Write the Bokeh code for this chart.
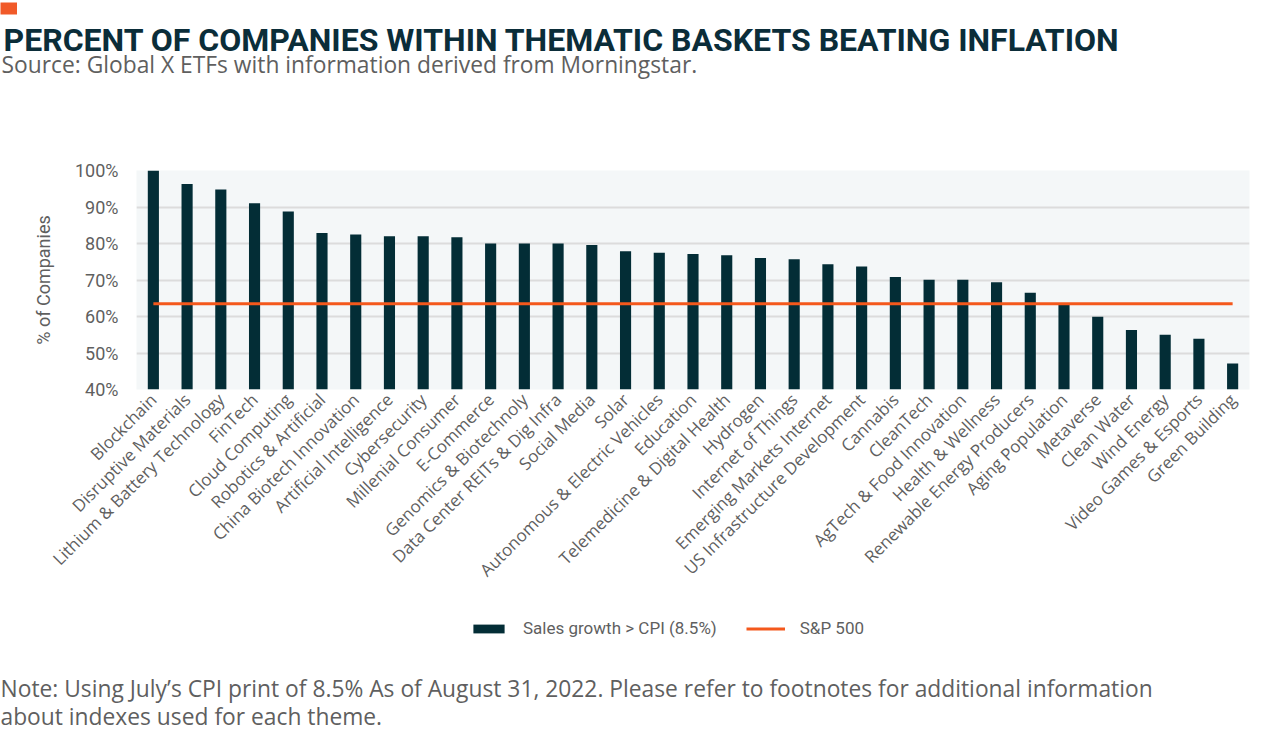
import math
from bokeh.plotting import figure
from bokeh.layouts import column
from bokeh.models import (ColumnDataSource, FactorRange, FixedTicker, NumeralTickFormatter,
                          Legend, LegendItem, Title, Range1d)
from bokeh.embed import file_html
from bokeh.resources import INLINE

categories = [
    "Blockchain", "Disruptive Materials", "Lithium & Battery Technology", "FinTech",
    "Cloud Computing", "Robotics & Artificial", "China Biotech Innovation",
    "Artificial Intelligence", "Cybersecurity", "Millenial Consumer", "E-Commerce",
    "Genomics & Biotechnoly", "Data Center REITs & Dig Infra", "Social Media", "Solar",
    "Autonomous & Electric Vehicles", "Education", "Telemedicine & Digital Health",
    "Hydrogen", "Internet of Things", "Emerging Markets Internet",
    "US Infrastructure Development", "Cannabis", "CleanTech", "AgTech & Food Innovation",
    "Health & Wellness", "Renewable Energy Producers", "Aging Population", "Metaverse",
    "Clean Water", "Wind Energy", "Video Games & Esports", "Green Building",
]
sales_growth_pct = [
    100.0, 96.3, 94.8, 91.0, 88.8, 82.9, 82.5, 82.0, 82.0, 81.7, 80.0,
    80.0, 80.0, 79.6, 77.9, 77.5, 77.1, 76.8, 76.0, 75.7, 74.3,
    73.7, 70.8, 70.1, 70.1, 69.4, 66.5, 63.4, 59.9, 56.3, 55.0, 53.9, 47.1,
]
sp500_pct = 63.5
y_ticks_pct = [40, 50, 60, 70, 80, 90, 100]

title_text = "PERCENT OF COMPANIES WITHIN THEMATIC BASKETS BEATING INFLATION"
subtitle_text = "Source: Global X ETFs with information derived from Morningstar."
note_line1 = "Note: Using July\u2019s CPI print of 8.5% As of August 31, 2022. Please refer to footnotes for additional information"
note_line2 = "about indexes used for each theme."
legend_labels = ["Sales growth > CPI (8.5%)", "S&P 500"]

DARK = "#032d36"
ORANGE = "#f4581c"
GREY = "#5f5f5f"
TXT = "Open Sans"
TXT_SIZE = "22.8px"
W = 1272
FRAME_L = 136

src = ColumnDataSource(dict(cat=categories, val=[v / 100 for v in sales_growth_pct]))


def blank(height, x_range, y_range, bottom=0):
    f = figure(width=W, height=height, x_range=x_range, y_range=y_range,
               output_backend="svg", toolbar_location=None, title=None,
               x_axis_location=None, y_axis_location=None,
               min_border_left=FRAME_L, min_border_right=23,
               min_border_top=0, min_border_bottom=bottom)
    f.outline_line_color = None
    f.xgrid.visible = False
    f.ygrid.visible = False
    return f


# ---------------- header (texts as titles in the side panel)
HEAD_H = 158
head = blank(HEAD_H, Range1d(0, 1), Range1d(0, 1))
head.add_layout(Title(text=subtitle_text, align="left", offset=1 - FRAME_L, standoff=-34,
                      text_font=TXT, text_font_style="normal", text_font_size=TXT_SIZE,
                      text_color=GREY), "above")
head.add_layout(Title(text=title_text, align="left", offset=3 - FRAME_L, standoff=8,
                      text_font="Roboto", text_font_style="bold",
                      text_font_size="32px", text_color="#0b2d39"), "above")
head.add_layout(Title(text="\u2003\u2002", align="left", offset=-FRAME_L, standoff=0,
                      text_font_size="11px", background_fill_color="#f15a29",
                      text_color="#f15a29"), "above")

# ---------------- main chart
TOP_B = 12
FRAME_H = 219
AX_H = 220
p = figure(width=W, height=TOP_B + FRAME_H + AX_H,
           x_range=FactorRange(*categories, range_padding=0),
           y_range=Range1d(0.40, 1.00), output_backend="svg", toolbar_location=None, title=None,
           min_border_left=FRAME_L, min_border_right=23, min_border_top=TOP_B,
           min_border_bottom=AX_H)
p.outline_line_color = None
p.background_fill_color = "#f4f7f8"
p.border_fill_color = "white"

p.vbar(x="cat", top="val", bottom=0.40, width=0.33, source=src,
       fill_color=DARK, line_color=None)
p.line(x=[categories[0], categories[-1]], y=[sp500_pct / 100] * 2,
       line_color=ORANGE, line_width=3)

p.yaxis.ticker = FixedTicker(ticks=[t / 100 for t in y_ticks_pct])
p.yaxis.formatter = NumeralTickFormatter(format="0%")
p.yaxis.axis_label = "% of Companies"
p.yaxis.axis_label_text_font = "Roboto"
p.yaxis.axis_label_text_font_style = "normal"
p.yaxis.axis_label_text_font_size = "18px"
p.yaxis.axis_label_text_color = GREY
p.yaxis.axis_label_standoff = 18
p.yaxis.major_label_text_font = "Roboto"
p.yaxis.major_label_text_font_size = "18px"
p.yaxis.major_label_text_color = GREY
p.yaxis.major_label_standoff = 12

for ax in (p.xaxis[0], p.yaxis[0]):
    ax.axis_line_color = None
    ax.major_tick_line_color = None
    ax.minor_tick_line_color = None

p.xaxis.major_label_orientation = math.pi / 4
p.xaxis.major_label_text_font = "Open Sans"
p.xaxis.major_label_text_font_size = "17px"
p.xaxis.major_label_text_color = GREY
p.xaxis.major_label_standoff = 1

p.xgrid.grid_line_color = None
p.ygrid.grid_line_color = "#dcdcdc"
p.ygrid.grid_line_width = 2

# ---------------- footer: legend (inside frame) + note (titles below)
FOOT_H = 742 - HEAD_H - (TOP_B + FRAME_H + AX_H)
foot = blank(FOOT_H, FactorRange(*categories, range_padding=0), Range1d(10, 11))
# same series styles for the legend swatches; the renderers themselves are hidden here
leg_bar = foot.vbar(x="cat", top="val", bottom=0.40, width=0.33, source=src,
                    fill_color=DARK, line_color=None, visible=False)
leg_line = foot.line(x=[categories[0], categories[-1]], y=[sp500_pct / 100] * 2,
                     line_color=ORANGE, line_width=3, visible=False)
legend = Legend(items=[LegendItem(label=legend_labels[0], renderers=[leg_bar]),
                       LegendItem(label=legend_labels[1], renderers=[leg_line])],
                location=(469 - FRAME_L, 47), orientation="horizontal",
                glyph_width=39, glyph_height=11, label_height=20, label_standoff=15,
                spacing=29, padding=0, margin=0, border_line_color=None,
                background_fill_alpha=0, inactive_fill_alpha=0,
                label_text_font="Roboto",
                label_text_font_size="17px", label_text_color=GREY)
foot.add_layout(legend, "center")
foot.add_layout(Title(text=note_line1, align="left", offset=-FRAME_L, standoff=-30,
                      text_font=TXT, text_font_style="normal", text_font_size=TXT_SIZE,
                      text_color=GREY), "below")
foot.add_layout(Title(text=note_line2, align="left", offset=-FRAME_L, standoff=21,
                      text_font=TXT, text_font_style="normal", text_font_size=TXT_SIZE,
                      text_color=GREY), "below")

layout = column(head, p, foot, spacing=0)
open("out.html", "w").write(file_html(layout, INLINE))
